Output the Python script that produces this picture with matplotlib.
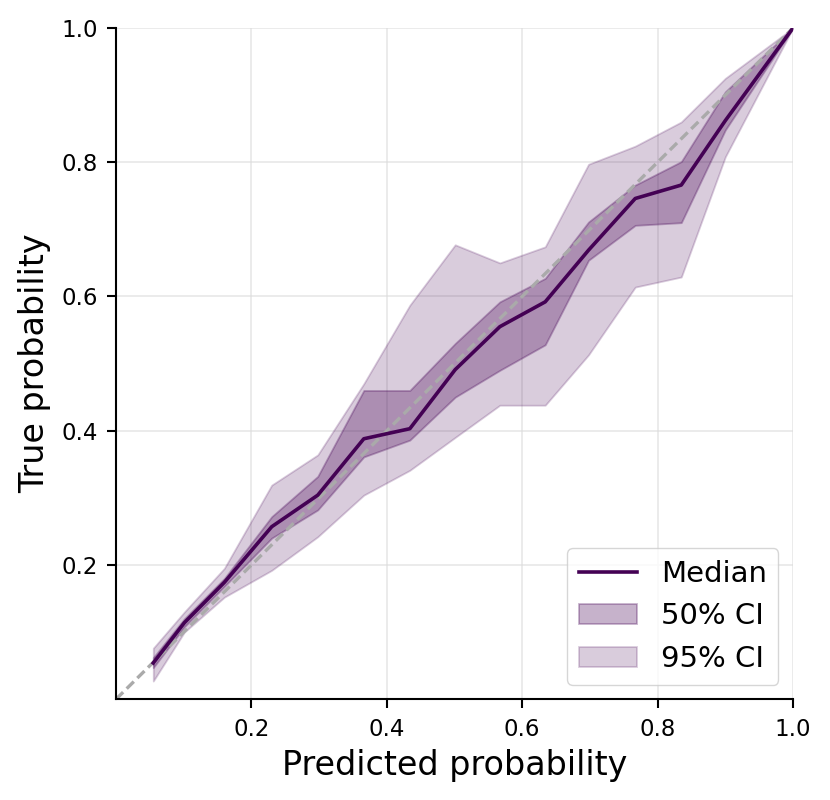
import matplotlib
matplotlib.use("Agg")
import matplotlib.pyplot as plt
import numpy as np

pred = [0.055, 0.101, 0.160, 0.230, 0.298, 0.366, 0.434, 0.501, 0.567, 0.634, 0.698, 0.767, 0.835, 0.900, 1.000]
median = [0.054, 0.114, 0.174, 0.257, 0.304, 0.388, 0.403, 0.491, 0.555, 0.592, 0.669, 0.746, 0.766, 0.862, 1.000]
lo50 = [0.047, 0.108, 0.168, 0.240, 0.282, 0.361, 0.386, 0.450, 0.490, 0.528, 0.654, 0.706, 0.710, 0.848, 1.000]
hi50 = [0.062, 0.120, 0.180, 0.272, 0.332, 0.460, 0.460, 0.530, 0.592, 0.627, 0.711, 0.766, 0.801, 0.905, 1.000]
lo95 = [0.027, 0.100, 0.152, 0.192, 0.242, 0.304, 0.341, 0.390, 0.438, 0.438, 0.513, 0.614, 0.629, 0.808, 1.000]
hi95 = [0.076, 0.130, 0.195, 0.319, 0.364, 0.470, 0.587, 0.677, 0.650, 0.674, 0.797, 0.824, 0.860, 0.925, 1.000]

color = "#440154"

fig = plt.figure(figsize=(8.3, 8.0), dpi=100)
ax = fig.add_axes([0.1398, 0.126, 0.8156, 0.839])

ax.grid(True, color="#dddddd", alpha=0.7, linewidth=1.2)
ax.set_axisbelow(True)

ax.fill_between(pred, lo95, hi95, color=color, alpha=0.2, linewidth=1.3, label="95% CI")
ax.fill_between(pred, lo50, hi50, color=color, alpha=0.3, linewidth=1.3, label="50% CI")
ax.plot([0, 1], [0, 1], linestyle="--", color="#aaaaaa", linewidth=2.4, dashes=(3.0, 1.5))
ax.plot(pred, median, color=color, linewidth=2.6, label="Median")

ax.set_xlim(0, 1)
ax.set_ylim(0, 1)
ax.set_xticks([0.2, 0.4, 0.6, 0.8, 1.0])
ax.set_yticks([0.2, 0.4, 0.6, 0.8, 1.0])
ax.tick_params(labelsize=16.5, length=6.7, width=1.5, pad=6.5)
for s in ["top", "right"]:
    ax.spines[s].set_visible(False)
for s in ["left", "bottom"]:
    ax.spines[s].set_linewidth(1.5)

ax.set_xlabel("Predicted probability", fontsize=24, labelpad=6)
ax.set_ylabel("True probability", fontsize=24, labelpad=7)

h, l = ax.get_legend_handles_labels()
order = [l.index("Median"), l.index("50% CI"), l.index("95% CI")]
ax.legend([h[i] for i in order], [l[i] for i in order], loc="lower right", fontsize=21)

fig.savefig("out.png", dpi=100)
